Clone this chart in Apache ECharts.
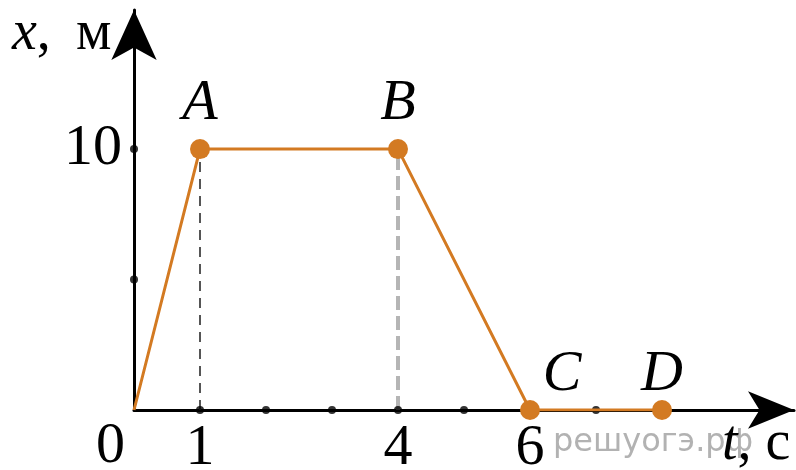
<!DOCTYPE html>
<html>
<head>
<meta charset="utf-8">
<script src="https://cdn.jsdelivr.net/npm/echarts@6/dist/echarts.min.js"></script>
<style>
  html, body { margin: 0; padding: 0; background: #fff; }
  #chart { width: 796px; height: 470px; }
</style>
</head>
<body>
<div id="chart"></div>
<script>
// график x(t)
var pathPoints = [[0, 0], [1, 10], [4, 10], [6, 0], [8, 0]];
var pointNames = ['', 'A', 'B', 'C', 'D'];
var xTickDots = [1, 2, 3, 4, 5, 6, 7, 8];
var yTickDots = [5, 10];
var xTickLabels = [1, 4, 6];
var yTickLabels = [10];
var dashA = [[1, 0], [1, 10]];
var dashB = [[4, 0], [4, 10]];

var orange = '#d37a22';
var serif = '"Liberation Serif", "DejaVu Serif", serif';

var myChart = echarts.init(document.getElementById('chart'));

var lineData = pathPoints.map(function (p, i) {
  var item = { value: p, name: pointNames[i] };
  if (i === 0) { item.symbolSize = 0; item.label = { show: false }; }
  if (pointNames[i] === 'C') {
    item.label = { position: 'top', distance: -4, offset: [32, 0] };
  }
  if (pointNames[i] === 'D') {
    item.label = { position: 'top', distance: -4 };
  }
  return item;
});

myChart.setOption({
  animation: false,
  backgroundColor: '#fff',
  grid: { left: 134, right: 2, top: 10, bottom: 60, containLabel: false, outerBoundsMode: 'none' },
  xAxis: {
    type: 'value', min: 0, max: 10, interval: 1,
    splitLine: { show: false },
    axisTick: { show: false },
    axisLine: {
      onZero: false,
      symbol: ['none', 'arrow'], symbolSize: [28, 46],
      lineStyle: { color: '#000', width: 3 }
    },
    axisLabel: {
      margin: 10, color: '#000', fontFamily: serif, fontSize: 58,
      formatter: function (v) { return xTickLabels.indexOf(v) >= 0 ? String(v) : ''; }
    }
  },
  yAxis: {
    type: 'value', min: 0, max: 15.33, interval: 1,
    splitLine: { show: false },
    axisTick: { show: false },
    axisLine: {
      onZero: false,
      symbol: ['none', 'arrow'], symbolSize: [34, 50],
      lineStyle: { color: '#000', width: 3 }
    },
    axisLabel: {
      margin: 12, color: '#000', fontFamily: serif, fontSize: 58,
      formatter: function (v) { return yTickLabels.indexOf(v) >= 0 ? String(v) : ''; }
    }
  },
  graphic: [
    { type: 'text', left: 553, top: 427, z: 1,
      style: { text: 'решуогэ.рф', fill: '#b2b2b2', font: '32px "DejaVu Sans", sans-serif' } },
    { type: 'text', left: 96, top: 418, z: 10,
      style: { text: '0', fill: '#000', font: '58px ' + serif } },
    { type: 'text', left: 12, top: 6, z: 10,
      style: { text: '{i|x},\u2009 м', fill: '#000', font: '56px ' + serif,
        rich: { i: { fontStyle: 'italic', fontFamily: serif, fontSize: 56 } } } },
    { type: 'text', left: 722, top: 416, z: 10,
      style: { text: '{i|t}, c', fill: '#000', font: '56px ' + serif,
        rich: { i: { fontStyle: 'italic', fontFamily: serif, fontSize: 56 } } } }
  ],
  series: [
    {
      type: 'line', data: dashA, symbol: 'none', z: 1,
      lineStyle: { color: '#555', width: 2, type: [10, 7] }
    },
    {
      type: 'line', data: dashB, symbol: 'none', z: 1,
      lineStyle: { color: '#b5b5b5', width: 4, type: [14, 6] }
    },
    {
      type: 'scatter', data: xTickDots.map(function (v) { return [v, 0]; }),
      symbolSize: 8, itemStyle: { color: '#000' }, z: 2
    },
    {
      type: 'scatter', data: yTickDots.map(function (v) { return [0, v]; }),
      symbolSize: 8, itemStyle: { color: '#000' }, z: 2
    },
    {
      type: 'line', data: lineData, z: 5,
      symbol: 'circle', symbolSize: 20,
      lineStyle: { color: orange, width: 3 },
      itemStyle: { color: orange },
      label: {
        show: true, position: 'top', distance: 6,
        formatter: function (p) { return p.name; },
        color: '#000', fontFamily: serif, fontStyle: 'italic', fontSize: 58
      }
    }
  ]
});
window.onresize = function () { myChart.resize(); };
</script>
</body>
</html>
